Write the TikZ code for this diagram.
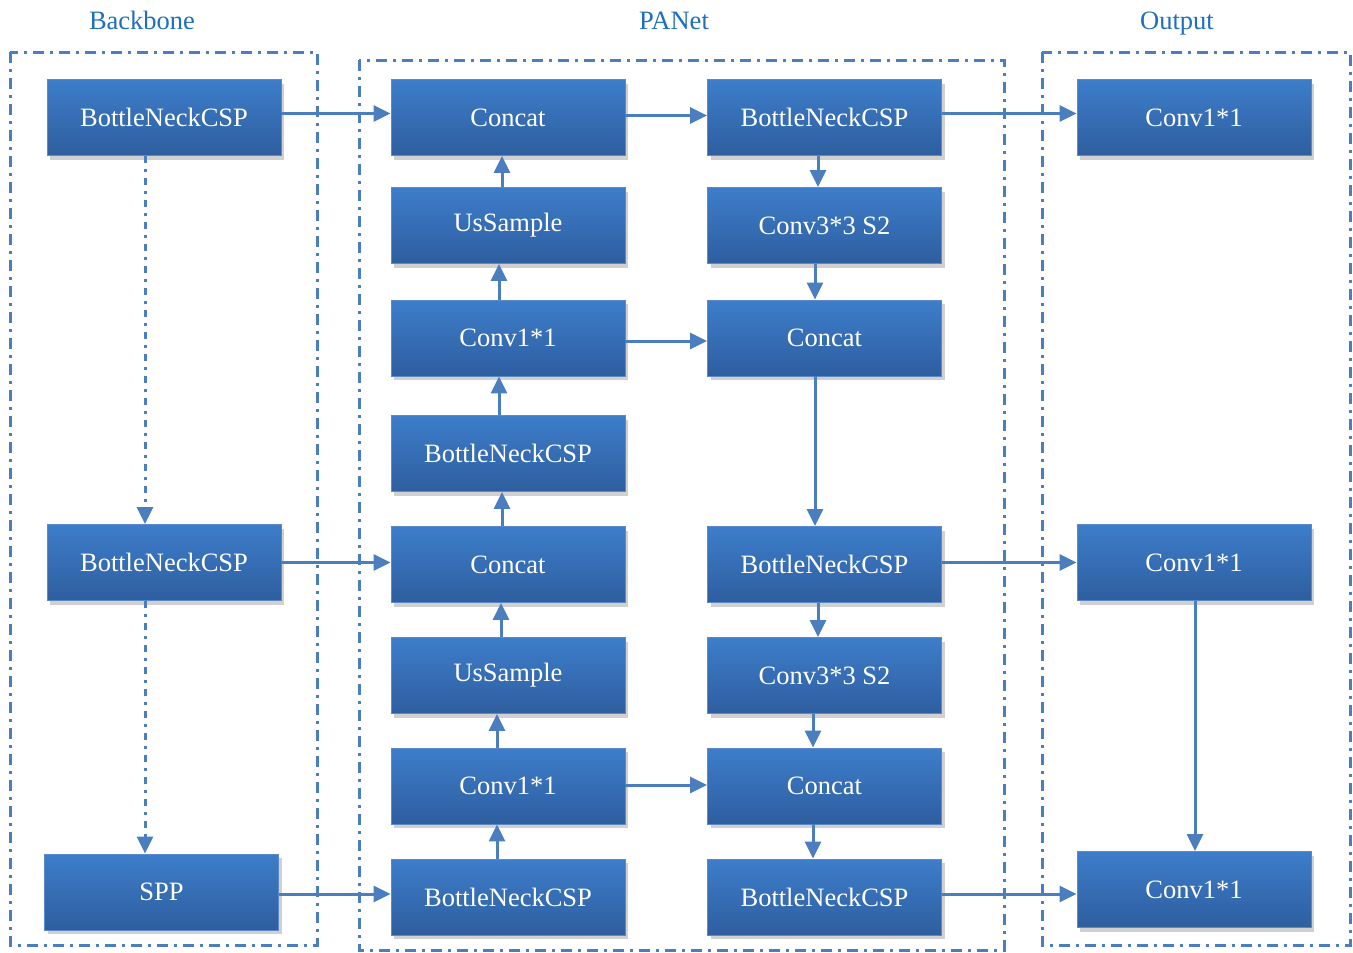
\documentclass[tikz,border=0pt]{standalone}
\usepackage{fontspec}
\setmainfont{Liberation Serif}
\usetikzlibrary{arrows.meta,shadows}
\definecolor{boxtop}{HTML}{3D7DCA}
\definecolor{boxbot}{HTML}{2E5E9F}
\definecolor{boxedge}{HTML}{5A8ACC}
\definecolor{linec}{HTML}{4A7EBF}
\definecolor{titlec}{HTML}{1F6FBF}
\tikzset{
  blk/.style={rectangle, minimum width=234pt, minimum height=76pt, inner sep=0pt,
    top color=boxtop, bottom color=boxbot, draw=boxedge, line width=0.8pt,
    text=white, font=\fontsize{26.5}{30}\selectfont,
    drop shadow={shadow xshift=3pt, shadow yshift=-4pt, opacity=0.3, fill=black!60}},
  conn/.style={draw=linec, line width=3pt, -{Triangle[length=17pt,width=16pt,fill=linec]}},
  dconn/.style={conn, dash pattern=on 7pt off 6pt on 3pt off 6pt},
  frame/.style={draw=linec, line width=3pt, dash pattern=on 11pt off 6pt on 3pt off 6pt},
  ttl/.style={text=titlec, font=\fontsize{26.5}{30}\selectfont, anchor=base, inner sep=0pt}
}
\begin{document}
\begin{tikzpicture}[x=1pt,y=-1pt]
\useasboundingbox (0,0) rectangle (1353,953);
\fill[white] (0,0) rectangle (1353,953);
% frames
\draw[frame] (10,52) rectangle (317,945);
\draw[frame] (359,60) rectangle (1004,950);
\draw[frame] (1042,52) rectangle (1350,945);
% titles
\node[ttl] (tb) at (142,29) {Backbone};
\node[ttl] (tp) at (674,29) {PANet};
\node[ttl] (to) at (1177,29) {Output};
% backbone
\node[blk] (B1) at (164,117.5) {BottleNeckCSP};
\node[blk] (B2) at (164,562.5) {BottleNeckCSP};
\node[blk] (SPP) at (161.5,892) {SPP};
% PANet left
\node[blk] (C1) at (508,117.5) {Concat};
\node[blk] (U1) at (508,225.5) {UsSample};
\node[blk] (V1) at (508,338) {Conv1*1};
\node[blk] (N1) at (508,453.5) {BottleNeckCSP};
\node[blk] (C2) at (508,564.5) {Concat};
\node[blk] (U2) at (508,675.5) {UsSample};
\node[blk] (V2) at (508,786) {Conv1*1};
\node[blk] (N2) at (508,897) {BottleNeckCSP};
% PANet right
\node[blk] (R1) at (824.5,117.5) {BottleNeckCSP};
\node[blk] (S1) at (824.5,225.5) {Conv3*3 S2};
\node[blk] (K1) at (824.5,338) {Concat};
\node[blk] (R2) at (824.5,564.5) {BottleNeckCSP};
\node[blk] (S2) at (824.5,675.5) {Conv3*3 S2};
\node[blk] (K2) at (824.5,786) {Concat};
\node[blk] (R3) at (824.5,897) {BottleNeckCSP};
% output
\node[blk] (O1) at (1194,117.5) {Conv1*1};
\node[blk] (O2) at (1194,562.5) {Conv1*1};
\node[blk] (O3) at (1194,889.5) {Conv1*1};
% backbone dashed arrows
\draw[dconn] ([xshift=-19pt]B1.south) -- ([xshift=-19pt]B2.north);
\draw[dconn] ([xshift=-19pt]B2.south) -- ([xshift=-16.5pt]SPP.north);
% horizontal arrows
\draw[conn] ([yshift=4pt]B1.east) -- ([yshift=4pt]C1.west);
\draw[conn] ([yshift=2pt]C1.east) -- ([yshift=2pt]R1.west);
\draw[conn] ([yshift=4pt]R1.east) -- ([yshift=4pt]O1.west);
\draw[conn] ([yshift=-3pt]V1.east) -- ([yshift=-3pt]K1.west);
\draw[conn] (B2.east) -- (B2.east -| C2.west);
\draw[conn] (O2.west -| R2.east) -- (O2.west);
\draw[conn] ([yshift=1pt]V2.east) -- ([yshift=1pt]K2.west);
\draw[conn] ([yshift=-2pt]SPP.east) -- ([yshift=3pt]N2.west);
\draw[conn] ([yshift=3pt]R3.east) -- ([yshift=-4.5pt]O3.west);
% left column up arrows
\draw[conn] ([xshift=-6pt]U1.north) -- ([xshift=-6pt]C1.south);
\draw[conn] ([xshift=-9pt]V1.north) -- ([xshift=-9pt]U1.south);
\draw[conn] ([xshift=-9pt]N1.north) -- ([xshift=-9pt]V1.south);
\draw[conn] ([xshift=-6pt]C2.north) -- ([xshift=-6pt]N1.south);
\draw[conn] ([xshift=-7pt]U2.north) -- ([xshift=-7pt]C2.south);
\draw[conn] ([xshift=-11pt]V2.north) -- ([xshift=-11pt]U2.south);
\draw[conn] ([xshift=-11pt]N2.north) -- ([xshift=-11pt]V2.south);
% right column down arrows
\draw[conn] ([xshift=-6.5pt]R1.south) -- ([xshift=-6.5pt]S1.north);
\draw[conn] ([xshift=-9.5pt]S1.south) -- ([xshift=-9.5pt]K1.north);
\draw[conn] ([xshift=-9.5pt]K1.south) -- ([xshift=-9.5pt]R2.north);
\draw[conn] ([xshift=-6.5pt]R2.south) -- ([xshift=-6.5pt]S2.north);
\draw[conn] ([xshift=-11.5pt]S2.south) -- ([xshift=-11.5pt]K2.north);
\draw[conn] ([xshift=-11.5pt]K2.south) -- ([xshift=-11.5pt]R3.north);
% output vertical
\draw[conn] ([xshift=1pt]O2.south) -- ([xshift=1pt]O3.north);
\end{tikzpicture}
\end{document}
